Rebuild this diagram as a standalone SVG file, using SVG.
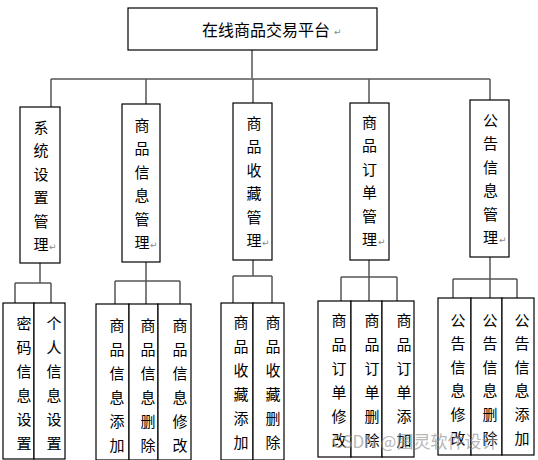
<svg xmlns="http://www.w3.org/2000/svg" width="538" height="460" viewBox="0 0 538 460">
<style>
.box{fill:#fff;stroke:#000;stroke-width:1.2}
.t{font-family:"Noto Sans CJK SC","Noto Sans CJK JP",sans-serif;font-size:15px;fill:#000;text-anchor:middle}
.tt{font-family:"Noto Sans CJK SC","Noto Sans CJK JP",sans-serif;font-size:16px;fill:#000}
.rm{font-family:"DejaVu Sans",sans-serif;font-size:9px;fill:#888}
.c{stroke:#555;stroke-width:1.5;fill:none}
.bus{stroke:#808080;stroke-width:2.2;fill:none}
.wm{font-family:"Noto Sans CJK SC",sans-serif;font-size:17px;fill:#999;opacity:0.7}
</style>
<rect width="538" height="460" fill="#fff"/>
<g id="connectors">
<path class="c" d="M252 50V79"/>
<path class="bus" d="M51 79H490"/>
<path class="c" d="M51 79V107M146 79V104M253 79V103M369 79V103M490 79V100"/>
<path class="c" d="M40 263V283M15 283H51M15 283V303M51 283V303"/>
<path class="c" d="M146 262V281M115 281H180M115 281V304M146 281V304M180 281V304"/>
<path class="c" d="M253 260V276M233 276H272M233 276V303M272 276V303"/>
<path class="c" d="M369 260V277M341 277H397M341 277V301M369 277V301M397 277V301"/>
<path class="c" d="M490 257V279M453 279H517M453 279V298M490 279V298M517 279V298"/>
</g>
<g id="root">
<rect class="box" x="128" y="8" width="249" height="42"/>
<text class="tt" x="202" y="36">在线商品交易平台</text>
<text class="rm" x="334" y="35">↵</text>
</g>
<g id="n1">
<rect class="box" x="20" y="107" width="40" height="156"/>
<text class="t" x="41" y="132.5"><tspan x="41">系</tspan><tspan x="41" dy="23.5">统</tspan><tspan x="41" dy="23.5">设</tspan><tspan x="41" dy="23.5">置</tspan><tspan x="41" dy="23.5">管</tspan><tspan x="41" dy="23.5">理</tspan></text>
<text class="rm" x="49" y="250">↵</text>
</g>
<g id="n2">
<rect class="box" x="122" y="104" width="38" height="158"/>
<text class="t" x="142" y="130.5"><tspan x="142">商</tspan><tspan x="142" dy="23.5">品</tspan><tspan x="142" dy="23.5">信</tspan><tspan x="142" dy="23.5">息</tspan><tspan x="142" dy="23.5">管</tspan><tspan x="142" dy="23.5">理</tspan></text>
<text class="rm" x="150" y="248">↵</text>
</g>
<g id="n3">
<rect class="box" x="233" y="103" width="39" height="157"/>
<text class="t" x="254" y="128.5"><tspan x="254">商</tspan><tspan x="254" dy="23.5">品</tspan><tspan x="254" dy="23.5">收</tspan><tspan x="254" dy="23.5">藏</tspan><tspan x="254" dy="23.5">管</tspan><tspan x="254" dy="23.5">理</tspan></text>
<text class="rm" x="262" y="246">↵</text>
</g>
<g id="n4">
<rect class="box" x="350" y="103" width="39" height="157"/>
<text class="t" x="369.5" y="127.5"><tspan x="369.5">商</tspan><tspan x="369.5" dy="23.5">品</tspan><tspan x="369.5" dy="23.5">订</tspan><tspan x="369.5" dy="23.5">单</tspan><tspan x="369.5" dy="23.5">管</tspan><tspan x="369.5" dy="23.5">理</tspan></text>
<text class="rm" x="378" y="245">↵</text>
</g>
<g id="n5">
<rect class="box" x="470" y="100" width="39" height="157"/>
<text class="t" x="490.5" y="125.5"><tspan x="490.5">公</tspan><tspan x="490.5" dy="23.5">告</tspan><tspan x="490.5" dy="23.5">信</tspan><tspan x="490.5" dy="23.5">息</tspan><tspan x="490.5" dy="23.5">管</tspan><tspan x="490.5" dy="23.5">理</tspan></text>
<text class="rm" x="499" y="243">↵</text>
</g>
<g id="n1a">
<rect class="box" x="3" y="303" width="31" height="156"/>
<text class="t" x="24" y="328.5"><tspan x="24">密</tspan><tspan x="24" dy="24">码</tspan><tspan x="24" dy="24">信</tspan><tspan x="24" dy="24">息</tspan><tspan x="24" dy="24">设</tspan><tspan x="24" dy="24">置</tspan></text>
</g>
<g id="n1b">
<rect class="box" x="34" y="303" width="31" height="156"/>
<text class="t" x="54" y="328.5"><tspan x="54">个</tspan><tspan x="54" dy="24">人</tspan><tspan x="54" dy="24">信</tspan><tspan x="54" dy="24">息</tspan><tspan x="54" dy="24">设</tspan><tspan x="54" dy="24">置</tspan></text>
</g>
<g id="n2a">
<rect class="box" x="96" y="304" width="33" height="156"/>
<text class="t" x="117" y="330.5"><tspan x="117">商</tspan><tspan x="117" dy="24">品</tspan><tspan x="117" dy="24">信</tspan><tspan x="117" dy="24">息</tspan><tspan x="117" dy="24">添</tspan><tspan x="117" dy="24">加</tspan></text>
</g>
<g id="n2b">
<rect class="box" x="129" y="304" width="29" height="156"/>
<text class="t" x="148" y="330.5"><tspan x="148">商</tspan><tspan x="148" dy="24">品</tspan><tspan x="148" dy="24">信</tspan><tspan x="148" dy="24">息</tspan><tspan x="148" dy="24">删</tspan><tspan x="148" dy="24">除</tspan></text>
</g>
<g id="n2c">
<rect class="box" x="158" y="304" width="33" height="156"/>
<text class="t" x="180" y="330.5"><tspan x="180">商</tspan><tspan x="180" dy="24">品</tspan><tspan x="180" dy="24">信</tspan><tspan x="180" dy="24">息</tspan><tspan x="180" dy="24">修</tspan><tspan x="180" dy="24">改</tspan></text>
</g>
<g id="n3a">
<rect class="box" x="221" y="303" width="32" height="157"/>
<text class="t" x="241" y="327.5"><tspan x="241">商</tspan><tspan x="241" dy="24">品</tspan><tspan x="241" dy="24">收</tspan><tspan x="241" dy="24">藏</tspan><tspan x="241" dy="24">添</tspan><tspan x="241" dy="24">加</tspan></text>
</g>
<g id="n3b">
<rect class="box" x="253" y="303" width="31" height="157"/>
<text class="t" x="273" y="327.5"><tspan x="273">商</tspan><tspan x="273" dy="24">品</tspan><tspan x="273" dy="24">收</tspan><tspan x="273" dy="24">藏</tspan><tspan x="273" dy="24">删</tspan><tspan x="273" dy="24">除</tspan></text>
</g>
<g id="n4a">
<rect class="box" x="318" y="301" width="33" height="156"/>
<text class="t" x="339" y="325.5"><tspan x="339">商</tspan><tspan x="339" dy="24">品</tspan><tspan x="339" dy="24">订</tspan><tspan x="339" dy="24">单</tspan><tspan x="339" dy="24">修</tspan><tspan x="339" dy="24">改</tspan></text>
</g>
<g id="n4b">
<rect class="box" x="351" y="301" width="31" height="156"/>
<text class="t" x="372" y="325.5"><tspan x="372">商</tspan><tspan x="372" dy="24">品</tspan><tspan x="372" dy="24">订</tspan><tspan x="372" dy="24">单</tspan><tspan x="372" dy="24">删</tspan><tspan x="372" dy="24">除</tspan></text>
</g>
<g id="n4c">
<rect class="box" x="382" y="301" width="32" height="156"/>
<text class="t" x="404" y="325.5"><tspan x="404">商</tspan><tspan x="404" dy="24">品</tspan><tspan x="404" dy="24">订</tspan><tspan x="404" dy="24">单</tspan><tspan x="404" dy="24">添</tspan><tspan x="404" dy="24">加</tspan></text>
</g>
<g id="n5a">
<rect class="box" x="438" y="298" width="33" height="157"/>
<text class="t" x="458" y="325.5"><tspan x="458">公</tspan><tspan x="458" dy="23.6">告</tspan><tspan x="458" dy="23.6">信</tspan><tspan x="458" dy="23.6">息</tspan><tspan x="458" dy="23.6">修</tspan><tspan x="458" dy="23.6">改</tspan></text>
</g>
<g id="n5b">
<rect class="box" x="471" y="298" width="31" height="157"/>
<text class="t" x="490" y="325.5"><tspan x="490">公</tspan><tspan x="490" dy="23.6">告</tspan><tspan x="490" dy="23.6">信</tspan><tspan x="490" dy="23.6">息</tspan><tspan x="490" dy="23.6">删</tspan><tspan x="490" dy="23.6">除</tspan></text>
</g>
<g id="n5c">
<rect class="box" x="502" y="298" width="32" height="157"/>
<text class="t" x="522" y="325.5"><tspan x="522">公</tspan><tspan x="522" dy="23.6">告</tspan><tspan x="522" dy="23.6">信</tspan><tspan x="522" dy="23.6">息</tspan><tspan x="522" dy="23.6">添</tspan><tspan x="522" dy="23.6">加</tspan></text>
</g>
<text class="wm" x="332" y="448">CSDN @图灵软件设计</text>
</svg>
